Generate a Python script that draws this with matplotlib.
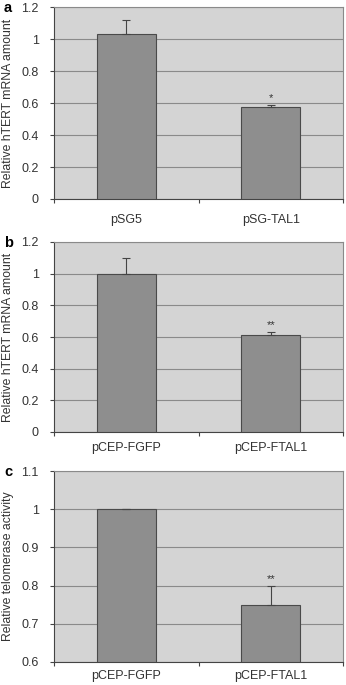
import numpy as np
import matplotlib
matplotlib.use('Agg')
import matplotlib.pyplot as plt

plt.rcParams['font.family'] = ['Liberation Sans', 'DejaVu Sans']

# panel data
labels_a = ['pSG5', 'pSG-TAL1']
values_a = [1.03, 0.574]
errors_a = [0.09, 0.016]
stars_a = ['', '*']

labels_b = ['pCEP-FGFP', 'pCEP-FTAL1']
values_b = [1.0, 0.612]
errors_b = [0.097, 0.022]
stars_b = ['', '**']

labels_c = ['pCEP-FGFP', 'pCEP-FTAL1']
values_c = [1.0, 0.75]
errors_c = [0.0, 0.048]
stars_c = ['', '**']

W, H = 346, 685
fig = plt.figure(figsize=(W / 100, H / 100), dpi=100)

panels = [
    ('a', labels_a, values_a, errors_a, stars_a, (0, 1.2), 0.2,
     'Relative hTERT mRNA amount', (7, 199), 11),
    ('b', labels_b, values_b, errors_b, stars_b, (0, 1.2), 0.2,
     'Relative hTERT mRNA amount', (242, 432), 7.5),
    ('c', labels_c, values_c, errors_c, stars_c, (0.6, 1.1), 0.1,
     'Relative telomerase activity', (471, 662), 5.5),
]

left, right = 54, 343
fs = 9
for letter, labels, vals, errs, stars, ylim, step, ylab, (top, bot), xpad in panels:
    ax = fig.add_axes([left / W, 1 - bot / H, (right - left) / W, (bot - top) / H])
    ax.set_facecolor('#d4d4d4')
    x = np.arange(len(labels))
    ax.bar(x, [v - ylim[0] for v in vals], bottom=ylim[0], width=0.41,
           color='#8e8e8e', edgecolor='#4a4a4a', linewidth=0.8, zorder=3)
    ax.errorbar(x, vals, yerr=[np.zeros(len(errs)), errs], fmt='none',
                ecolor='#444444', elinewidth=0.8, capsize=3, capthick=0.8, zorder=4)
    for xi, v, e, s in zip(x, vals, errs, stars):
        if s:
            ax.text(xi, v + e + 0.01 * (ylim[1] - ylim[0]), s,
                    ha='center', va='bottom', fontsize=8, color='#333333')
    ax.set_xlim(-0.5, 1.5)
    ax.set_ylim(*ylim)
    ticks = np.arange(ylim[0], ylim[1] + step / 2, step)
    ax.set_yticks(ticks)
    ax.set_yticklabels(['%g' % round(t, 1) for t in ticks], fontsize=fs, color='#333333')
    ax.yaxis.grid(True, color='#8a8a8a', linewidth=0.8, zorder=1)
    ax.set_axisbelow(True)
    ax.set_xticks([-0.5, 0.5, 1.5])
    ax.set_xticklabels([])
    ax.set_xticks(x, minor=True)
    ax.set_xticklabels(labels, minor=True, fontsize=fs, color='#333333')
    ax.tick_params(axis='x', which='minor', length=0, pad=xpad)
    ax.tick_params(axis='x', which='major', length=3, direction='out', color='#444444')
    ax.tick_params(axis='y', length=3, direction='out', color='#444444', pad=8)
    for sp in ['top', 'right']:
        ax.spines[sp].set_color('#8a8a8a')
        ax.spines[sp].set_linewidth(0.8)
    for sp in ['left', 'bottom']:
        ax.spines[sp].set_color('#444444')
        ax.spines[sp].set_linewidth(0.8)
    fig.text(8 / W, 1 - (top + bot) / 2 / H, ylab, rotation=90, fontsize=8.8,
             ha='center', va='center', color='#333333')
    fig.text(4 / W, 1 - (top + 1) / H, letter, fontsize=10.5, fontweight='bold',
             ha='left', va='center')

fig.savefig('out.png', dpi=100)
